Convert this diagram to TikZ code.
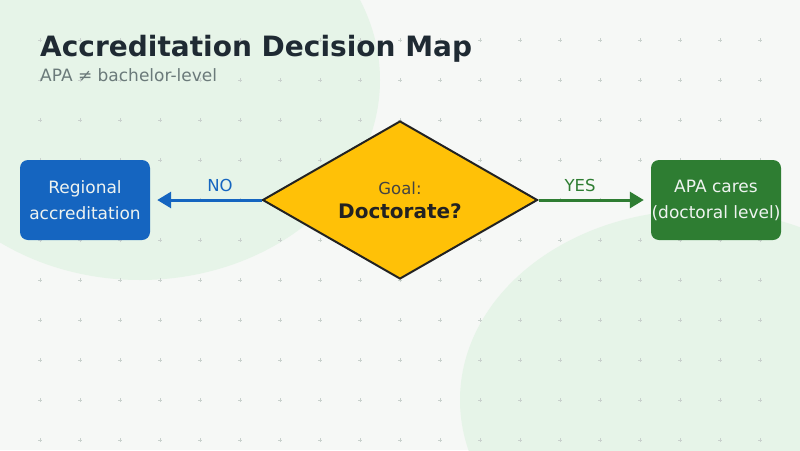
\documentclass[tikz,border=0pt]{standalone}
\usepackage{fontspec}
\setmainfont{DejaVu Sans}
\usetikzlibrary{shapes.geometric,arrows.meta}

\definecolor{bgpaper}{HTML}{F6F8F6}
\definecolor{bgblob}{HTML}{E6F4E8}
\definecolor{gridmark}{HTML}{C9D1CD}
\definecolor{titleink}{HTML}{1F2A33}
\definecolor{subink}{HTML}{6B7A7A}
\definecolor{regblue}{HTML}{1565C0}
\definecolor{apagreen}{HTML}{2E7D32}
\definecolor{goalgold}{HTML}{FFC107}
\definecolor{edgeink}{HTML}{222222}
\definecolor{boxink}{HTML}{EEF3F0}

\tikzset{
  outcome/.style={rectangle, rounded corners=8pt, minimum width=130pt, minimum height=80pt,
    text=boxink, align=center, font=\fontsize{17}{26}\selectfont},
  choice/.style={diamond, draw=edgeink, line width=2pt, fill=goalgold, aspect=1.74,
    minimum width=275pt, minimum height=158pt, inner sep=0pt, align=center, text=edgeink,
    font=\fontsize{16.5}{24}\selectfont},
  branch/.style={line width=3pt, -{Triangle[length=14pt,width=16pt]}, shorten >=7pt},
  branchlabel/.style={font=\fontsize{16.5}{18}\selectfont}
}

\begin{document}
\begin{tikzpicture}[x=1pt,y=1pt]
\tikzstyle{every node}+=[inner sep=0pt]
\useasboundingbox (0,0) rectangle (800,-450);
\fill [bgpaper] (0,0) rectangle (800,-450);
\fill [bgblob] (140,-80) ellipse (240 and 200);
\fill [bgblob] (700,-400) ellipse (240 and 190);
% faint plus grid
\foreach \i in {1,...,19}
  \foreach \j in {1,...,11}
    \draw [gridmark, line width=0.5pt] (40*\i-2,-40*\j) -- (40*\i+2,-40*\j)
      (40*\i,-40*\j-2) -- (40*\i,-40*\j+2);
\node [anchor=base west, text=titleink, font=\fontsize{28}{32}\selectfont\bfseries] (title) at (40,-56) {Accreditation Decision Map};
\node [anchor=base west, text=subink, font=\fontsize{17}{18}\selectfont] (subtitle) at (40,-81.5) {APA ≠ bachelor-level};
\node [choice] (goal) at (400,-200) {\textcolor{edgeink!85}{Goal:}\\{\fontsize{20}{24}\selectfont\bfseries Doctorate?}};
\node [outcome, fill=regblue] (regional) at (85,-200) {Regional\\accreditation};
\node [outcome, fill=apagreen] (apa) at (716,-200) {APA cares\\(doctoral level)};
\draw [branch, regblue] (goal.west) -- (regional.east);
\draw [branch, apagreen] (goal.east) -- (apa.west);
\node [branchlabel, text=regblue] (no) at (220,-185) {NO};
\node [branchlabel, text=apagreen] (yes) at (580,-185) {YES};
\end{tikzpicture}
\end{document}
